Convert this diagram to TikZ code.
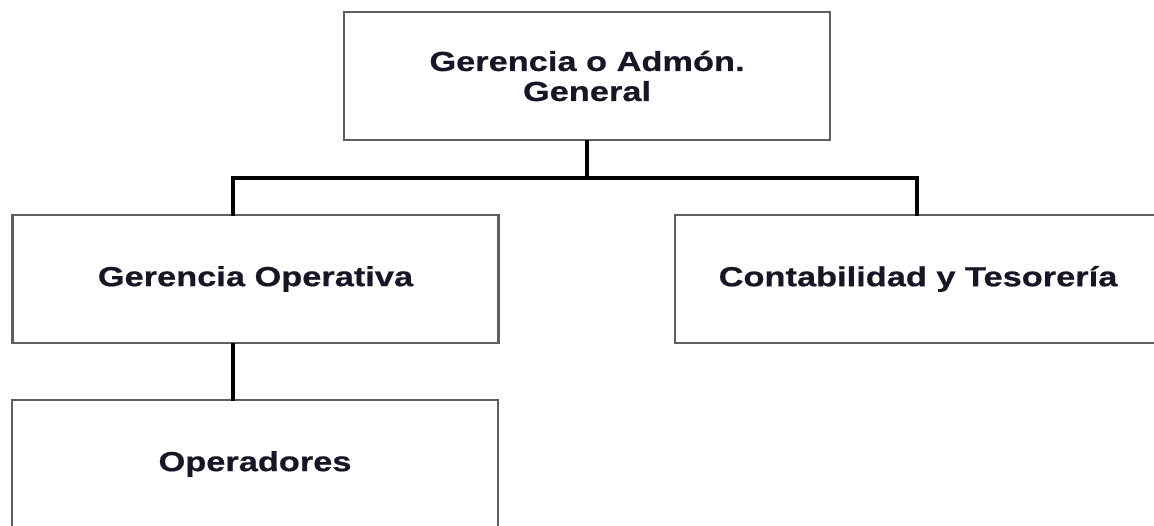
\documentclass[tikz,border=0pt]{standalone}
\usepackage{fontspec}
\setmainfont{Liberation Sans}
\newfontfamily\unitfont[FakeStretch=1.25, FakeBold=0.6]{Liberation Sans}
\definecolor{boxline}{RGB}{95,95,95}
\definecolor{inkc}{RGB}{22,22,38}
\begin{document}
\begin{tikzpicture}[x=1pt,y=-1pt,
  unit/.style={draw=boxline, line width=2.6pt, fill=white, rectangle,
    minimum width=486pt, minimum height=128pt, inner sep=0pt,
    align=center, text=inkc,
    font=\unitfont\fontsize{27.5}{30}\selectfont\bfseries},
  link/.style={draw=black, line width=3.6pt, line cap=rect}]
\useasboundingbox (0,0) rectangle (1154,525);
\clip (0,0) rectangle (1154,525);

% org chart units
\node[unit] (gen) at (587,76) {Gerencia o Admón.\\General};
\node[unit] (ope) at (255.5,279) {Gerencia Operativa};
\node[unit] (con) at (918,279) {Contabilidad y Tesorería};
\node[unit] (opr) at (255,464) {Operadores};

% distribution bus under the general management
\coordinate (busL) at (233,178);
\coordinate (busR) at (917,178);

\draw[link] (gen.south) -- (gen.south |- busL);
\draw[link] (busL |- ope.north) -- (busL) -- (busR) -- (busR |- con.north);
\draw[link] (busL |- ope.south) -- (busL |- opr.north);
\end{tikzpicture}
\end{document}
